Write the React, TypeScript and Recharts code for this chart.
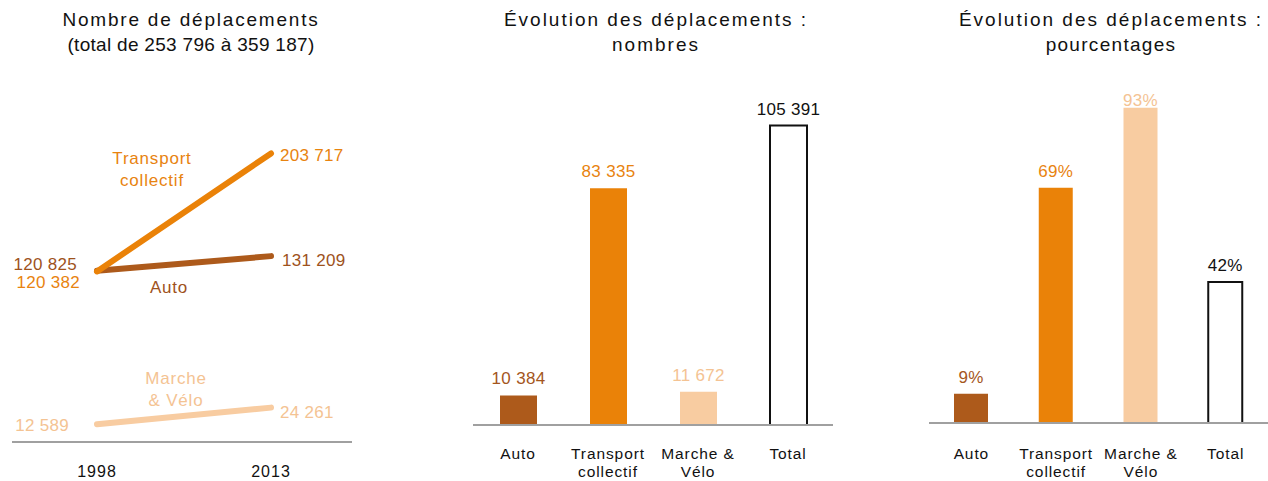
import React from 'react';
import { LineChart, Line, BarChart, Bar, XAxis, YAxis, Cell, LabelList } from 'recharts';

// trips per mode, 1998 vs 2013
const years = ['1998', '2013'];
const autoTrips = [120825, 131209];
const transitTrips = [120382, 203717];
const walkBikeTrips = [12589, 24261];

// change between the two surveys
const modes = ['Auto', 'Transport\ncollectif', 'Marche &\nVélo', 'Total'];
const changeCounts = [10384, 83335, 11672, 105391];
const changePercents = [8.6, 69.2, 92.7, 41.5];

const BROWN = '#AD5A1B';
const ORANGE = '#EA8208';
const PEACH = '#F8CCA1';
const AXIS = '#A0A0A0';
const FONT = '"Liberation Sans", Arial, sans-serif';

const barFills = [BROWN, ORANGE, PEACH, '#FFFFFF'];
const barTextColors = ['#A4561D', '#E8830F', '#F4C393', '#111111'];

const fmt = (n: number) => n.toString().replace(/\B(?=(\d{3})+(?!\d))/g, ' ');

const lineData = years.map((year, i) => ({
    year,
    auto: autoTrips[i],
    transit: transitTrips[i],
    walk: walkBikeTrips[i],
}));

const countData = modes.map((mode, i) => ({ mode, value: changeCounts[i] }));
const percentData = modes.map((mode, i) => ({ mode, value: changePercents[i] }));

interface SeriesStyle {
    key: string;
    name: string[];
    color: string;
    text: string;
    start: [number, number];
    end: [number, number];
    nameAt: [number, number];
}

const seriesStyles: SeriesStyle[] = [
    { key: 'auto', name: ['Auto'], color: BROWN, text: '#9E521C', start: [-20, -7], end: [11, 4], nameAt: [-102, 31] },
    { key: 'transit', name: ['Transport', 'collectif'], color: ORANGE, text: '#E8830F', start: [-17, 11], end: [9, 2], nameAt: [-119, 5] },
    { key: 'walk', name: ['Marche', '& Vélo'], color: PEACH, text: '#F4C393', start: [-28, 1], end: [9, 4], nameAt: [-95, -30] },
];

const textStyle = { fontFamily: FONT, fontSize: 17, letterSpacing: 0.3 };

const makeLineLabel = (s: SeriesStyle) => (props: any) => {
    const { x, y, value, index } = props;
    const isStart = index === 0;
    const [dx, dy] = isStart ? s.start : s.end;
    return (
        <g>
            <text x={x + dx} y={y + dy} dy="0.35em" textAnchor={isStart ? 'end' : 'start'} fill={s.text} style={textStyle}>
                {fmt(value)}
            </text>
            {!isStart && (
                <text x={x + s.nameAt[0]} y={y + s.nameAt[1]} textAnchor="middle" fill={s.text} style={{ ...textStyle, letterSpacing: 0.8 }}>
                    {s.name.map((line, i) => (
                        <tspan key={i} x={x + s.nameAt[0]} dy={i === 0 ? '0.35em' : 22}>{line}</tspan>
                    ))}
                </text>
            )}
        </g>
    );
};

const YearTick = (props: any) => {
    const { x, y, payload } = props;
    return (
        <text x={x} y={y + 33} textAnchor="middle" fill="#111" style={{ ...textStyle, fontSize: 16, letterSpacing: 1 }}>
            {payload.value}
        </text>
    );
};

const makeModeTick = (offset: number) => (props: any) => {
    const { x, y, payload } = props;
    const lines = String(payload.value).split('\n');
    return (
        <text x={x} y={y + offset} textAnchor="middle" fill="#111" style={{ ...textStyle, fontSize: 15.5, letterSpacing: 0.9 }}>
            {lines.map((line, i) => (
                <tspan key={i} x={x} dy={i === 0 ? 0 : 17.5}>{line}</tspan>
            ))}
        </text>
    );
};

const makeBarLabel = (format: (v: number) => string, minBaseline: number) => (props: any) => {
    const { x, y, width, value, index } = props;
    const baseline = Math.max(y - 11, minBaseline);
    return (
        <text x={x + width / 2} y={baseline} textAnchor="middle" fill={barTextColors[index]} style={textStyle}>
            {format(value)}
        </text>
    );
};

const Title = ({ center, lines }: { center: number; lines: { text: string; spacing: number }[] }) => (
    <div style={{ position: 'absolute', left: center - 200, top: 7, width: 400, textAlign: 'center', fontSize: 19, lineHeight: '25px', color: '#111', whiteSpace: 'nowrap' }}>
        {lines.map((l, i) => (
            <div key={i} style={{ letterSpacing: l.spacing }}>{l.text}</div>
        ))}
    </div>
);

export default function App() {
    return (
        <div style={{ position: 'absolute', left: 0, top: 0, width: 1268, height: 481, background: '#fff', fontFamily: FONT, overflow: 'hidden' }}>
            <Title center={191} lines={[{ text: 'Nombre de déplacements', spacing: 1.8 }, { text: '(total de 253 796 à 359 187)', spacing: 0.3 }]} />
            <Title center={656} lines={[{ text: 'Évolution des déplacements :', spacing: 2 }, { text: 'nombres', spacing: 2 }]} />
            <Title center={1111} lines={[{ text: 'Évolution des déplacements :', spacing: 2 }, { text: 'pourcentages', spacing: 1.3 }]} />

            <div style={{ position: 'absolute', left: 0, top: 0 }}>
                <LineChart width={360} height={481} data={lineData} margin={{ top: 102, right: 8, bottom: 0, left: 12 }}>
                    <XAxis
                        dataKey="year"
                        height={39}
                        padding={{ left: 85, right: 81 }}
                        axisLine={{ stroke: AXIS, strokeWidth: 2 }}
                        tickLine={false}
                        tickSize={0}
                        tick={<YearTick />}
                    />
                    <YAxis hide domain={[0, 240000]} />
                    {seriesStyles.map(s => (
                        <Line
                            key={s.key}
                            dataKey={s.key}
                            stroke={s.color}
                            strokeWidth={6}
                            strokeLinecap="round"
                            dot={false}
                            activeDot={false}
                            isAnimationActive={false}
                        >
                            <LabelList dataKey={s.key} content={makeLineLabel(s)} />
                        </Line>
                    ))}
                </LineChart>
            </div>

            <div style={{ position: 'absolute', left: 440, top: 0 }}>
                <BarChart width={400} height={481} data={countData} margin={{ top: 84, right: 7, bottom: 0, left: 33 }}>
                    <XAxis
                        dataKey="mode"
                        height={56}
                        axisLine={{ stroke: AXIS, strokeWidth: 2 }}
                        tickLine={false}
                        tickSize={0}
                        interval={0}
                        tick={makeModeTick(32)}
                    />
                    <YAxis hide domain={[0, 120000]} />
                    <Bar dataKey="value" barSize={37} isAnimationActive={false}>
                        {countData.map((d, i) => (
                            <Cell key={d.mode} fill={barFills[i]} stroke={i === 3 ? '#111' : 'none'} strokeWidth={i === 3 ? 2 : 0} />
                        ))}
                        <LabelList dataKey="value" content={makeBarLabel(fmt, 0)} />
                    </Bar>
                </BarChart>
            </div>

            <div style={{ position: 'absolute', left: 900, top: 0 }}>
                <BarChart width={368} height={481} data={percentData} margin={{ top: 83, right: 0, bottom: 0, left: 29 }}>
                    <XAxis
                        dataKey="mode"
                        height={58}
                        axisLine={{ stroke: AXIS, strokeWidth: 2 }}
                        tickLine={false}
                        tickSize={0}
                        interval={0}
                        tick={makeModeTick(34)}
                    />
                    <YAxis hide domain={[0, 100]} />
                    <Bar dataKey="value" barSize={34} isAnimationActive={false}>
                        {percentData.map((d, i) => (
                            <Cell key={d.mode} fill={barFills[i]} stroke={i === 3 ? '#111' : 'none'} strokeWidth={i === 3 ? 2 : 0} />
                        ))}
                        <LabelList dataKey="value" content={makeBarLabel(v => Math.round(v) + '%', 106)} />
                    </Bar>
                </BarChart>
            </div>
        </div>
    );
}
